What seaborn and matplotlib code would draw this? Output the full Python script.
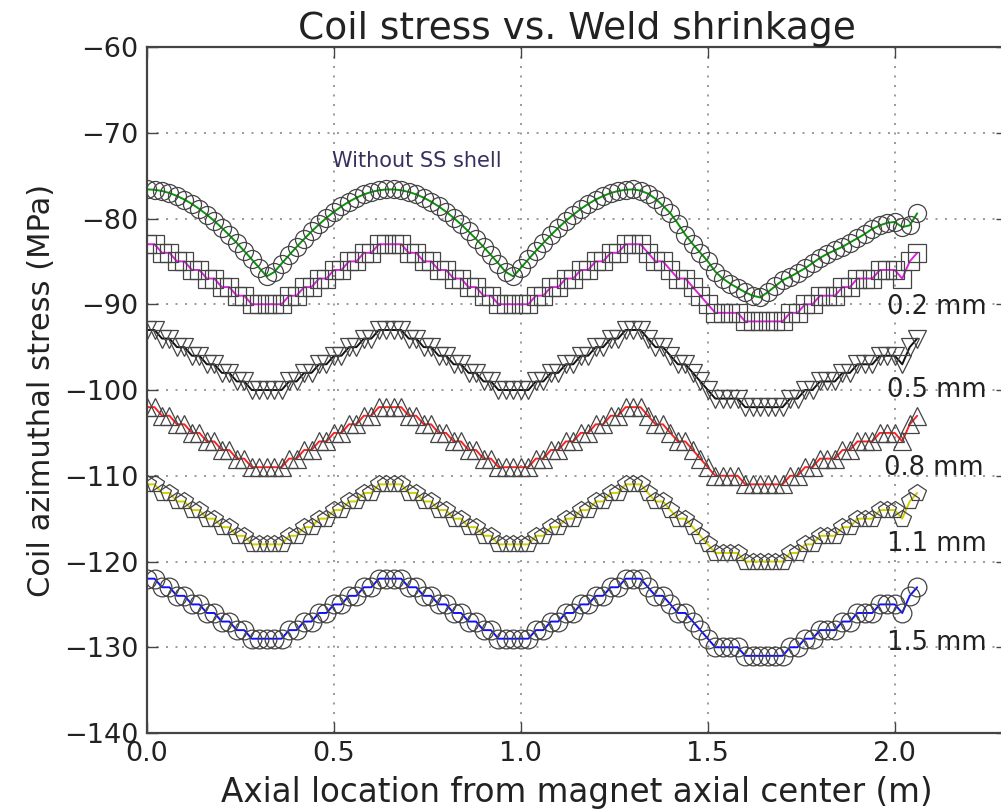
import matplotlib
matplotlib.use("Agg")
import matplotlib.pyplot as plt
import seaborn as sns

# Axial sampling positions (m)
axial_pos = [
    0.00, 0.02, 0.04, 0.06, 0.08, 0.10, 0.12, 0.14, 0.16, 0.18,
    0.20, 0.22, 0.24, 0.26, 0.28, 0.30, 0.32, 0.34, 0.36, 0.38,
    0.40, 0.42, 0.44, 0.46, 0.48, 0.50, 0.52, 0.54, 0.56, 0.58,
    0.60, 0.62, 0.64, 0.66, 0.68, 0.70, 0.72, 0.74, 0.76, 0.78,
    0.80, 0.82, 0.84, 0.86, 0.88, 0.90, 0.92, 0.94, 0.96, 0.98,
    1.00, 1.02, 1.04, 1.06, 1.08, 1.10, 1.12, 1.14, 1.16, 1.18,
    1.20, 1.22, 1.24, 1.26, 1.28, 1.30, 1.32, 1.34, 1.36, 1.38,
    1.40, 1.42, 1.44, 1.46, 1.48, 1.50, 1.52, 1.54, 1.56, 1.58,
    1.60, 1.62, 1.64, 1.66, 1.68, 1.70, 1.72, 1.74, 1.76, 1.78,
    1.80, 1.82, 1.84, 1.86, 1.88, 1.90, 1.92, 1.94, 1.96, 1.98,
    2.00, 2.02, 2.04, 2.06,
]

# Coil azimuthal stress (MPa) without the SS shell
stress_no_shell = [
    -76.60, -76.65, -76.79, -77.03, -77.37, -77.79, -78.30, -78.89, -79.56, -80.29,
    -81.09, -81.94, -82.85, -83.79, -84.76, -85.75, -86.75, -86.25, -85.25, -84.27,
    -83.31, -82.39, -81.51, -80.69, -79.92, -79.22, -78.59, -78.04, -77.57, -77.19,
    -76.90, -76.71, -76.61, -76.61, -76.71, -76.90, -77.19, -77.57, -78.04, -78.59,
    -79.22, -79.92, -80.69, -81.51, -82.39, -83.31, -84.27, -85.25, -86.25, -86.75,
    -85.75, -84.76, -83.79, -82.85, -81.94, -81.09, -80.29, -79.56, -78.89, -78.30,
    -77.79, -77.37, -77.03, -76.79, -76.65, -76.60, -76.75, -77.10, -77.70, -78.50,
    -79.40, -80.60, -81.90, -83.00, -84.00, -85.00, -86.20, -87.00, -87.60, -88.10,
    -88.60, -89.00, -89.20, -88.60, -87.90, -87.20, -86.80, -86.30, -85.80, -85.20,
    -84.60, -84.10, -83.70, -83.30, -82.80, -82.30, -81.80, -81.20, -80.80, -80.50,
    -80.40, -81.00, -80.80, -79.40,
]

# Weld shrinkage 0.2 mm
stress_02 = [
    -83, -83, -84, -84, -85, -85, -86, -86, -87, -87, -88, -88, -89, -89, -90, -90, -90,
    -90, -90, -89, -89, -88, -88, -87, -87, -86, -86, -85, -85, -84, -84, -83, -83,
    -83, -83, -84, -84, -85, -85, -86, -86, -87, -87, -88, -88, -89, -89, -90, -90, -90,
    -90, -90, -89, -89, -88, -88, -87, -87, -86, -86, -85, -85, -84, -84, -83, -83,
    -83, -84, -85, -85, -86, -87, -87, -88, -89, -90, -91, -91, -91, -91, -92, -92, -92,
    -92, -92, -92, -91, -91, -90, -90, -89, -89, -89, -88, -88, -87, -87, -87, -86, -86,
    -86, -87, -85, -84,
]

# Weld shrinkage 0.5 mm
stress_05 = [
    -93, -93, -94, -94, -95, -95, -96, -96, -97, -97, -98, -98, -99, -99, -100, -100, -100,
    -100, -100, -99, -99, -98, -98, -97, -97, -96, -96, -95, -95, -94, -94, -93, -93,
    -93, -93, -94, -94, -95, -95, -96, -96, -97, -97, -98, -98, -99, -99, -100, -100, -100,
    -100, -100, -99, -99, -98, -98, -97, -97, -96, -96, -95, -95, -94, -94, -93, -93,
    -93, -94, -95, -95, -96, -97, -97, -98, -99, -100, -101, -101, -101, -101, -102, -102, -102,
    -102, -102, -102, -101, -101, -100, -100, -99, -99, -99, -98, -98, -97, -97, -97, -96, -96,
    -96, -97, -95, -94,
]

# Weld shrinkage 0.8 mm
stress_08 = [
    -102, -102, -103, -103, -104, -104, -105, -105, -106, -106, -107, -107, -108, -108, -109, -109, -109,
    -109, -109, -108, -108, -107, -107, -106, -106, -105, -105, -104, -104, -103, -103, -102, -102,
    -102, -102, -103, -103, -104, -104, -105, -105, -106, -106, -107, -107, -108, -108, -109, -109, -109,
    -109, -109, -108, -108, -107, -107, -106, -106, -105, -105, -104, -104, -103, -103, -102, -102,
    -102, -103, -104, -104, -105, -106, -106, -107, -108, -109, -110, -110, -110, -110, -111, -111, -111,
    -111, -111, -111, -110, -110, -109, -109, -108, -108, -108, -107, -107, -106, -106, -106, -105, -105,
    -105, -106, -104, -103,
]

# Weld shrinkage 1.1 mm
stress_11 = [
    -111, -111, -112, -112, -113, -113, -114, -114, -115, -115, -116, -116, -117, -117, -118, -118, -118,
    -118, -118, -117, -117, -116, -116, -115, -115, -114, -114, -113, -113, -112, -112, -111, -111,
    -111, -111, -112, -112, -113, -113, -114, -114, -115, -115, -116, -116, -117, -117, -118, -118, -118,
    -118, -118, -117, -117, -116, -116, -115, -115, -114, -114, -113, -113, -112, -112, -111, -111,
    -111, -112, -113, -113, -114, -115, -115, -116, -117, -118, -119, -119, -119, -119, -120, -120, -120,
    -120, -120, -120, -119, -119, -118, -118, -117, -117, -117, -116, -116, -115, -115, -115, -114, -114,
    -114, -115, -113, -112,
]

# Weld shrinkage 1.5 mm
stress_15 = [
    -122, -122, -123, -123, -124, -124, -125, -125, -126, -126, -127, -127, -128, -128, -129, -129, -129,
    -129, -129, -128, -128, -127, -127, -126, -126, -125, -125, -124, -124, -123, -123, -122, -122,
    -122, -122, -123, -123, -124, -124, -125, -125, -126, -126, -127, -127, -128, -128, -129, -129, -129,
    -129, -129, -128, -128, -127, -127, -126, -126, -125, -125, -124, -124, -123, -123, -122, -122,
    -122, -123, -124, -124, -125, -126, -126, -127, -128, -129, -130, -130, -130, -130, -131, -131, -131,
    -131, -131, -131, -130, -130, -129, -129, -128, -128, -128, -127, -127, -126, -126, -126, -125, -125,
    -125, -126, -124, -123,
]

curve_labels = ["0.2 mm", "0.5 mm", "0.8 mm", "1.1 mm", "1.5 mm"]
label_x = [1.98, 1.98, 1.97, 1.98, 1.98]
label_y = [-90.3, -100.0, -109.1, -117.9, -129.5]

sns.set_theme(style="white")
plt.rcParams["font.family"] = ["DejaVu Sans"]

fig = plt.figure(figsize=(10.01, 8.09), dpi=100)
ax = fig.add_axes([0.1469, 0.0939, 0.859, 0.848])

series = [
    (stress_no_shell, "#009a00", "o", 13),
    (stress_02, "#e020e0", "s", 12.5),
    (stress_05, "#101010", "v", 13),
    (stress_08, "#ff2020", "^", 13),
    (stress_11, "#d0d000", "p", 13),
    (stress_15, "#1010ff", "o", 13.5),
]
for vals, col, mk, ms in series:
    sns.lineplot(x=axial_pos, y=vals, ax=ax, color=col, lw=1.4,
                 marker=mk, markersize=ms, markerfacecolor="none",
                 markeredgecolor="#444444", markeredgewidth=0.9,
                 sort=False, legend=False)

for txt, tx, ty in zip(curve_labels, label_x, label_y):
    ax.text(tx, ty, txt, fontsize=18.5, color="#222222", va="center", ha="left")

ax.text(0.495, -73.3, "Without SS shell", fontsize=15, color="#3a3060",
        va="center", ha="left")

ax.set_xlim(0, 2.3)
ax.set_ylim(-140, -60)
ax.set_xticks([0.0, 0.5, 1.0, 1.5, 2.0])
ax.set_yticks(list(range(-140, -59, 10)))
ax.set_xticklabels(["0.0", "0.5", "1.0", "1.5", "2.0"])

ax.grid(True, color="#8a8a8a", linestyle=(0, (1.2, 4.5)), linewidth=1.2)
ax.tick_params(direction="in", length=8, width=1.0, colors="#444444",
               labelcolor="#222222", labelsize=19.5, top=True, right=True,
               left=True, bottom=True, pad=6)
for sp in ax.spines.values():
    sp.set_color("#444444")
    sp.set_linewidth(1.6)

ax.set_title("Coil stress vs. Weld shrinkage", fontsize=27, color="#222222", pad=6)
ax.set_xlabel("Axial location from magnet axial center (m)", fontsize=23.5,
              color="#222222", labelpad=6)
ax.set_ylabel("Coil azimuthal stress (MPa)", fontsize=22, color="#222222",
              labelpad=6)

fig.savefig("out.png", dpi=100)
